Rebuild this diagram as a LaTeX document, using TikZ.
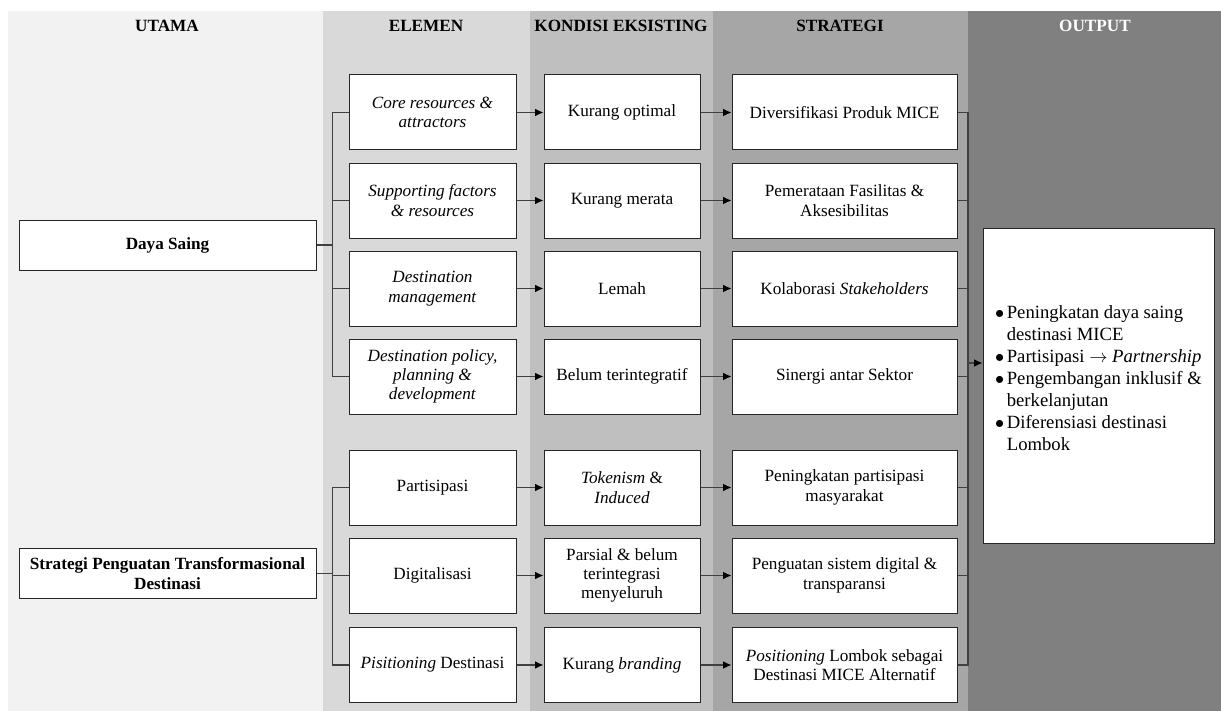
\documentclass[tikz,border=0pt]{standalone}
\usepackage{fontspec}
\setmainfont{Liberation Serif}
\usepackage{tikz}
\usetikzlibrary{arrows.meta}
\definecolor{colutama}{gray}{0.949}
\definecolor{colelemen}{gray}{0.851}
\definecolor{colkondisi}{gray}{0.749}
\definecolor{colstrategi}{gray}{0.651}
\definecolor{coloutput}{gray}{0.502}

\begin{document}
\begin{tikzpicture}[x=0.6pt,y=-0.6pt,
	box/.style={draw=black!85,fill=white,line width=0.6pt,align=center,inner sep=2pt,
		font=\fontsize{10.3}{11.6}\selectfont},
	elemen/.style={box,minimum width=100.2pt,minimum height=45pt},
	kondisi/.style={box,minimum width=93.6pt,minimum height=45pt},
	strategi/.style={box,minimum width=135pt,minimum height=45pt},
	utama/.style={box,minimum width=178.2pt,minimum height=30pt,font=\bfseries\fontsize{10.3}{11.6}\selectfont},
	head/.style={font=\bfseries\fontsize{10.3}{12}\selectfont},
	conn/.style={draw=black!75,line width=0.75pt},
	arr/.style={conn,-{Latex[length=5pt,width=4.6pt,color=black]}}]
	\useasboundingbox (0,0) rectangle (1221,711);
	\fill[colutama] (8,11) rectangle (323,711);
	\fill[colelemen] (323,11) rectangle (530,711);
	\fill[colkondisi] (530,11) rectangle (713,711);
	\fill[colstrategi] (713,11) rectangle (968,711);
	\fill[coloutput] (968,11) rectangle (1221,711);
	\node[head] (hutama) at (167,26) {UTAMA};
	\node[head] (helemen) at (426,26) {ELEMEN};
	\node[head] (hkondisi) at (621,26) {KONDISI EKSISTING};
	\node[head] (hstrategi) at (840,26) {STRATEGI};
	\node[head,text=white] (houtput) at (1095,26) {OUTPUT};
	\node[utama] (daya) at (167.5,245) {Daya Saing};
	\node[utama] (spt) at (167.5,573.5) {Strategi Penguatan Transformasional\\Destinasi};
	\node[elemen] (e1) at (432.5,112.5) {\textit{Core resources \&}\\\textit{attractors}};
	\node[elemen] (e2) at (432.5,200.5) {\textit{Supporting factors}\\\textit{\& resources}};
	\node[elemen] (e3) at (432.5,288.5) {\textit{Destination}\\\textit{management}};
	\node[elemen] (e4) at (432.5,376.5) {\textit{Destination policy,}\\\textit{planning \&}\\\textit{development}};
	\node[elemen] (e5) at (432.5,487.5) {Partisipasi};
	\node[elemen] (e6) at (432.5,575.5) {Digitalisasi};
	\node[elemen] (e7) at (432.5,665) {\textit{Pisitioning} Destinasi};
	\node[kondisi] (k1) at (622,112.5) {Kurang optimal};
	\node[kondisi] (k2) at (622,200.5) {Kurang merata};
	\node[kondisi] (k3) at (622,288.5) {Lemah};
	\node[kondisi] (k4) at (622,376.5) {Belum terintegratif};
	\node[kondisi] (k5) at (622,487.5) {\textit{Tokenism} \&\\\textit{Induced}};
	\node[kondisi] (k6) at (622,575.5) {Parsial \& belum\\terintegrasi\\menyeluruh};
	\node[kondisi] (k7) at (622,665) {Kurang \textit{branding}};
	\node[strategi] (s1) at (844.5,112.5) {Diversifikasi Produk MICE};
	\node[strategi] (s2) at (844.5,200.5) {Pemerataan Fasilitas \&\\Aksesibilitas};
	\node[strategi] (s3) at (844.5,288.5) {Kolaborasi \textit{Stakeholders}};
	\node[strategi] (s4) at (844.5,376.5) {Sinergi antar Sektor};
	\node[strategi] (s5) at (844.5,487.5) {Peningkatan partisipasi\\masyarakat};
	\node[strategi] (s6) at (844.5,575.5) {Penguatan sistem digital \&\\transparansi};
	\node[strategi] (s7) at (844.5,665) {\textit{Positioning} Lombok sebagai\\Destinasi MICE Alternatif};
	\node[box,minimum width=138.6pt,minimum height=189pt,inner sep=0pt,
		font=\fontsize{11.2}{13.2}\selectfont] (out) at (1098.5,385.5) {%
		\begin{tabular}{@{}c@{\hspace{1.5pt}}l@{}}
			$\bullet$ & Peningkatan daya saing\\
			& destinasi MICE\\
			$\bullet$ & Partisipasi $\rightarrow$ \textit{Partnership}\\
			$\bullet$ & Pengembangan inklusif \&\\
			& berkelanjutan\\
			$\bullet$ & Diferensiasi destinasi\\
			& Lombok\\[7pt]
		\end{tabular}};
	\coordinate (abus) at (332.5,245);
	\coordinate (bbus) at (332.5,573.5);
	\coordinate (obus) at (968,363);
	\draw[conn] (daya.east) -- (abus);
	\draw[conn] (spt.east) -- (bbus);
	\foreach \i in {1,...,4}
		\draw[conn] (e\i.west) -| (abus);
	\foreach \i in {5,6,7}
		\draw[conn] (e\i.west) -| (bbus);
	\foreach \i in {1,...,7} {
		\draw[arr] (e\i) -- (k\i);
		\draw[arr] (k\i) -- (s\i);
		\draw[conn] (s\i.east) -| (obus);
	}
	\draw[arr] (obus) -- (obus -| out.west);
\end{tikzpicture}
\end{document}
